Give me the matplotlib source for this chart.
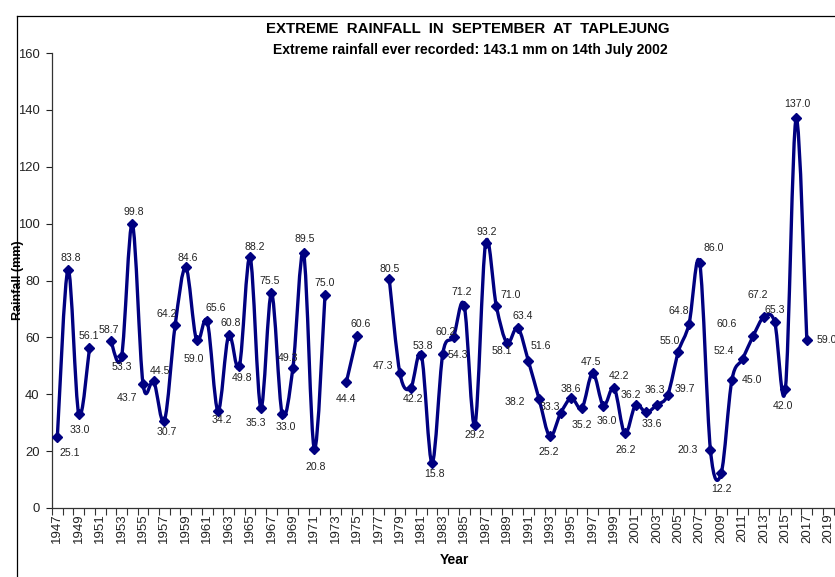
import numpy as np
import matplotlib
matplotlib.use('Agg')
import matplotlib.pyplot as plt
from matplotlib.path import Path
from matplotlib.patches import PathPatch
from matplotlib.lines import Line2D

# ---------------- data ----------------
years = list(range(1947, 2018))
rainfall = [25.1, 83.8, 33.0, 56.1, np.nan, 58.7, 53.3, 99.8, 43.7, 44.5,
            30.7, 64.2, 84.6, 59.0, 65.6, 34.2, 60.8, 49.8, 88.2, 35.3,
            75.5, 33.0, 49.3, 89.5, 20.8, 75.0, np.nan, 44.4, 60.6, np.nan,
            np.nan, 80.5, 47.3, 42.2, 53.8, 15.8, 54.3, 60.2, 71.2, 29.2,
            93.2, 71.0, 58.1, 63.4, 51.6, 38.2, 25.2, 33.3, 38.6, 35.2,
            47.5, 36.0, 42.2, 26.2, 36.2, 33.6, 36.3, 39.7, 55.0, 64.8,
            86.0, 20.3, 12.2, 45.0, 52.4, 60.6, 67.2, 65.3, 42.0, 137.0,
            59.0]
tick_years = list(range(1947, 2020, 2))
title = "EXTREME  RAINFALL  IN  SEPTEMBER  AT  TAPLEJUNG"
subtitle = "Extreme rainfall ever recorded: 143.1 mm on 14th July 2002"

# label placement offsets (pixels, relative to point)
label_off = {
    1947: (12, -16), 1948: (3, 12), 1949: (1, -16), 1950: (-1, 12),
    1952: (-2, 11), 1953: (0, -11), 1954: (1, 12), 1955: (-16, -14),
    1956: (6, 10), 1957: (2, -11), 1958: (-8, 11), 1959: (2, 9),
    1960: (-3, -19), 1961: (9, 13), 1962: (4, -9), 1963: (2, 12),
    1964: (3, -12), 1965: (5, 10), 1966: (-5, -15), 1967: (-2, 12),
    1968: (4, -13), 1969: (-5, 10), 1970: (1, 14), 1971: (1, -18),
    1972: (0, 12), 1974: (0, -17), 1975: (4, 12), 1978: (0, 10),
    1979: (-17, 7), 1980: (2, -11), 1981: (1, 9), 1982: (2, -11),
    1983: (15, -1), 1984: (-8, 5), 1985: (-3, 14), 1986: (0, -10),
    1987: (1, 11), 1988: (14, 11), 1989: (-5, -8), 1990: (5, 12),
    1991: (12, 15), 1992: (-24, -3), 1993: (-1, -16), 1994: (-11, 6),
    1995: (0, 9), 1996: (0, -17), 1997: (-2, 11), 1998: (3, -15),
    1999: (5, 12), 2000: (1, -17), 2001: (-5, 10), 2002: (6, -12),
    2003: (-2, 15), 2004: (17, 6), 2005: (-9, 11), 2006: (-10, 13),
    2007: (14, 15), 2008: (-23, 0), 2009: (0, -16), 2010: (20, 0),
    2011: (-19, 8), 2012: (-27, 12), 2013: (-6, 22), 2014: (0, 12),
    2015: (-2, -17), 2016: (1, 14), 2017: (20, 0),
}

# ---------------- fonts ----------------
fam = 'Liberation Sans'
plt.rcParams['font.family'] = [fam, 'DejaVu Sans']

W, H = 835, 577
fig = plt.figure(figsize=(W / 100, H / 100), dpi=100)
ax_l, ax_r, ax_t, ax_b = 52, 833.6, 53, 508
ax = fig.add_axes([ax_l / W, 1 - ax_b / H, (ax_r - ax_l) / W, (ax_b - ax_t) / H])

line_color = '#000080'

# smooth (Excel-like) curves per contiguous segment
def smooth_path(xs, ys):
    pts = np.column_stack([xs, ys]).astype(float)
    n = len(pts)
    verts = [pts[0]]
    codes = [Path.MOVETO]
    for i in range(n - 1):
        p0 = pts[i - 1] if i > 0 else pts[i]
        p1 = pts[i]
        p2 = pts[i + 1]
        p3 = pts[i + 2] if i + 2 < n else pts[i + 1]
        c1 = p1 + (p2 - p0) / 6.0
        c2 = p2 - (p3 - p1) / 6.0
        verts += [c1, c2, p2]
        codes += [Path.CURVE4] * 3
    return Path(verts, codes)

def draw_seg(seg):
    if len(seg) > 1:
        xs, ys = zip(*seg)
        ax.add_patch(PathPatch(smooth_path(xs, ys), fill=False,
                               edgecolor=line_color, lw=2.4,
                               capstyle='round', joinstyle='round'))

yr = np.array(years, dtype=float)
rf = np.array(rainfall, dtype=float)
valid = ~np.isnan(rf)
seg = []
for x, y, ok in zip(yr, rf, valid):
    if ok:
        seg.append((x, y))
    else:
        draw_seg(seg)
        seg = []
draw_seg(seg)

ax.plot(yr[valid], rf[valid], linestyle='none', marker='D', markersize=5.5,
        color=line_color, zorder=3)

for x, y, ok in zip(years, rainfall, valid):
    if not ok:
        continue
    dx, dy = label_off.get(x, (0, 10))
    ax.annotate(f"{y:.1f}", (x, y), xytext=(dx, dy), textcoords='offset pixels',
                ha='center', va='center', fontsize=7.6, color='#222222',
                annotation_clip=False)

# axes
ax.set_xlim(1946.5, 2019.5)
ax.set_ylim(0, 160)
ax.set_yticks(range(0, 161, 20))
ax.set_xticks(tick_years)
ax.set_xticklabels([str(t) for t in tick_years], rotation=90, fontsize=9.5)
ax.set_xticks(np.arange(1946.5, 2020, 1.0), minor=True)
ax.tick_params(axis='x', which='major', length=0, pad=4, colors='#222222')
ax.tick_params(axis='x', which='minor', length=5, width=0.8, direction='out',
               color='#333333')
ax.tick_params(axis='y', length=4, width=0.8, direction='out', labelsize=9.4,
               pad=5, colors='#222222')
for s in ['top', 'right']:
    ax.spines[s].set_visible(False)
for s in ['left', 'bottom']:
    ax.spines[s].set_linewidth(0.9)
    ax.spines[s].set_color('#333333')
ax.set_facecolor('none')

ax.set_ylabel('Rainfall (mm)', fontsize=9.0, fontweight='bold', va='center')
ax.yaxis.set_label_coords((18 - ax_l) / (ax_r - ax_l), 0.5)
ax.set_xlabel('Year', fontsize=10, fontweight='bold', va='center')
ax.xaxis.set_label_coords((454 - ax_l) / (ax_r - ax_l), (ax_b - 560) / (ax_b - ax_t))

fig.text(468 / W, 1 - 29 / H, title, ha='center', va='center',
         fontsize=10.8, fontweight='bold')
fig.text(470 / W, 1 - 50 / H, subtitle, ha='center', va='center',
         fontsize=10.1, fontweight='bold')

# chart border (partially cropped in the original)
fig.add_artist(Line2D([17 / W, 17 / W], [0, 1 - 16 / H], transform=fig.transFigure,
                      color='black', lw=0.9))
fig.add_artist(Line2D([17 / W, 1], [1 - 16 / H, 1 - 16 / H], transform=fig.transFigure,
                      color='black', lw=0.9))

fig.savefig('out.png', dpi=100)
